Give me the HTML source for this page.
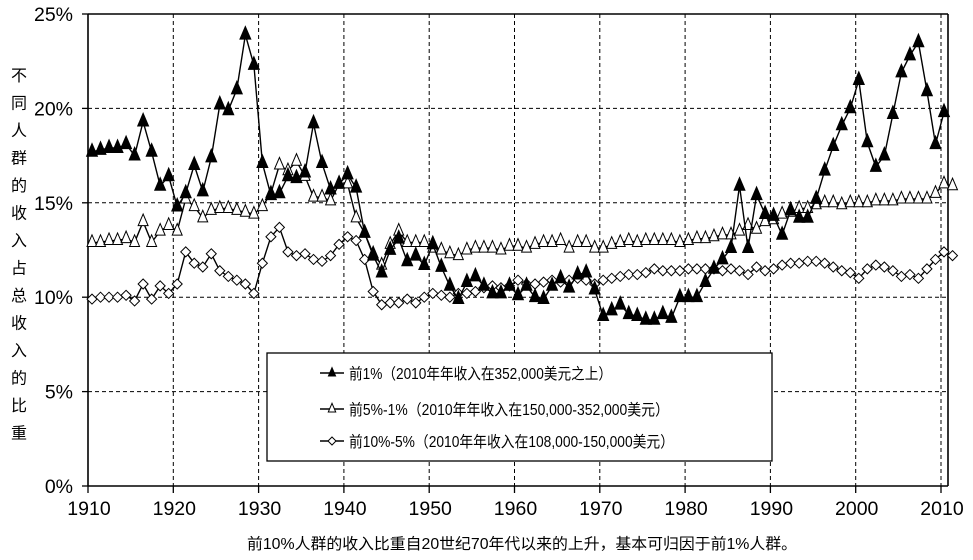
<!DOCTYPE html>
<html><head><meta charset="utf-8">
<style>
html,body{margin:0;padding:0;background:#fff;width:973px;height:560px;overflow:hidden}
svg{display:block}
text{font-family:"Liberation Sans","Noto Sans CJK SC",sans-serif;fill:#000}
</style></head>
<body>
<svg id="s" width="973" height="560" viewBox="0 0 973 560" xmlns="http://www.w3.org/2000/svg">
<rect width="973" height="560" fill="#fff"/>
<g id="grid" stroke="#000" stroke-width="1" stroke-dasharray="4,3"></g>
<g id="axes" stroke="#000" stroke-width="1.6" fill="none">
<line x1="88" y1="14" x2="88" y2="486"/>
<line x1="88" y1="486" x2="948" y2="486"/>
<line x1="88" y1="14" x2="948" y2="14"/>
<line x1="948" y1="14" x2="948" y2="486"/>
</g>
<g id="ticks" stroke="#000" stroke-width="1.3"></g>
<g id="ylab" font-size="19.5" text-anchor="end"></g>
<g id="xlab" font-size="19.5" text-anchor="middle"></g>
<g id="series"></g>
<rect x="267" y="353" width="505" height="108" fill="#fff" stroke="#000" stroke-width="1.3"/>
<g id="legend" font-size="15.5"></g>
<g id="yt" font-size="16" text-anchor="middle"></g>
<text x="522" y="549" font-size="15.5" text-anchor="middle" textLength="550" lengthAdjust="spacingAndGlyphs">前10%人群的收入比重自20世纪70年代以来的上升，基本可归因于前1%人群。</text>
</svg>
<script>
var NS="http://www.w3.org/2000/svg";
function el(p,t,a,txt){var e=document.createElementNS(NS,t);for(var k in a)e.setAttribute(k,a[k]);if(txt!=null)e.textContent=txt;document.getElementById(p).appendChild(e);return e;}
function X(y){return 88+(y-1910)*8.53;}
function Y(v){return 486-v*18.88;}
for(var yr=1920;yr<=2010;yr+=10){el('grid','line',{x1:X(yr),y1:14,x2:X(yr),y2:486});}
for(var v=5;v<=20;v+=5){el('grid','line',{x1:88,y1:Y(v),x2:948,y2:Y(v)});}
for(var yr=1910;yr<=2010;yr+=10){el('ticks','line',{x1:X(yr),y1:486,x2:X(yr),y2:493});el('xlab','text',{x:X(yr)+1,y:515},String(yr));}
for(var v=0;v<=25;v+=5){el('ticks','line',{x1:82,y1:Y(v),x2:88,y2:Y(v)});el('ylab','text',{x:73,y:Y(v)+7},v+'%');}
var yt="不同人群的收入占总收入的比重";
for(var i=0;i<yt.length;i++){el('yt','text',{x:19,y:81+i*27.5},yt[i]);}
var top1=[17.7,17.8,17.9,17.9,18.1,17.5,19.3,17.7,15.9,16.4,
14.8,15.5,17.0,15.6,17.4,20.2,19.9,21.0,23.9,22.3,
17.1,15.4,15.5,16.4,16.3,16.6,19.2,17.1,15.7,16.0,
16.5,15.8,13.4,12.2,11.3,12.5,13.1,11.9,12.2,11.7,
12.8,11.6,10.6,9.9,10.8,11.1,10.6,10.2,10.2,10.6,
10.1,10.6,10.0,9.9,10.6,11.0,10.5,11.2,11.3,10.4,
9.0,9.3,9.6,9.1,9.0,8.8,8.8,9.1,8.9,10.0,
10.0,10.0,10.8,11.5,12.0,12.6,15.9,12.6,15.4,14.4,
14.3,13.3,14.6,14.2,14.2,15.2,16.7,18.0,19.1,20.0,
21.5,18.2,16.9,17.5,19.7,21.9,22.8,23.5,20.9,18.1,19.8];
var top5=[12.9,12.9,13.0,13.0,13.1,12.9,14.0,12.9,13.5,13.8,
13.5,15.2,14.8,14.2,14.6,14.7,14.7,14.6,14.5,14.4,
14.8,15.5,17.0,16.7,17.2,16.4,15.3,15.3,15.1,16.0,
16.0,14.2,13.4,12.3,11.7,12.8,13.5,12.9,12.9,12.9,
12.6,12.5,12.3,12.2,12.5,12.6,12.6,12.6,12.5,12.7,
12.7,12.6,12.8,12.9,12.9,13.0,12.6,12.9,12.9,12.6,
12.6,12.8,12.9,13.0,12.9,13.0,13.0,13.0,13.0,12.9,
13.0,13.1,13.1,13.2,13.3,13.3,13.5,13.8,13.6,14.0,
14.1,14.4,14.5,14.7,14.7,14.9,15.0,15.0,14.9,15.0,
15.0,15.0,15.1,15.1,15.1,15.2,15.2,15.2,15.2,15.5,16.0,15.9];
var top10=[9.9,10.0,10.0,10.0,10.1,9.8,10.7,9.9,10.6,10.2,
10.7,12.4,11.8,11.6,12.3,11.4,11.1,10.9,10.7,10.2,
11.8,13.2,13.7,12.4,12.2,12.3,12.0,11.9,12.2,12.8,
13.2,13.0,12.0,10.3,9.6,9.7,9.7,9.9,9.7,10.0,
10.2,10.1,10.0,10.2,10.2,10.3,10.5,10.6,10.5,10.6,
10.9,10.7,10.7,10.8,10.9,10.8,10.9,11.0,10.9,10.7,
10.9,11.0,11.1,11.2,11.2,11.3,11.5,11.4,11.4,11.4,
11.5,11.5,11.5,11.5,11.4,11.5,11.4,11.2,11.6,11.4,
11.5,11.7,11.8,11.8,11.9,11.9,11.8,11.6,11.4,11.3,
11.0,11.5,11.7,11.6,11.4,11.1,11.2,11.0,11.5,12.0,12.4,12.2];
function px(i){return 92+i*8.52;}
function tri(x,y,s){return (x)+','+(y-s*0.95)+' '+(x-s*0.62)+','+(y+s*0.5)+' '+(x+s*0.62)+','+(y+s*0.5);}
function dia(x,y,s){return x+','+(y-s)+' '+(x+s)+','+y+' '+x+','+(y+s)+' '+(x-s)+','+y;}
function draw(d,kind){
  var pts=d.map(function(v,i){return px(i).toFixed(1)+','+Y(v).toFixed(1);}).join(' ');
  el('series','polyline',{points:pts,fill:'none',stroke:'#000','stroke-width':1.4});
  d.forEach(function(v,i){var x=px(i),y=Y(v);
    if(kind==0)el('series','polygon',{points:tri(x,y,9),fill:'#000',stroke:'#000','stroke-width':0.8});
    else if(kind==1)el('series','polygon',{points:tri(x,y,8),fill:'#fff',stroke:'#000','stroke-width':1});
    else el('series','polygon',{points:dia(x,y,5),fill:'#fff',stroke:'#000','stroke-width':1});
  });
}
draw(top10,2);draw(top5,1);draw(top1,0);
var ly=[373,409,441];
var lt=["前1%（2010年年收入在352,000美元之上）","前5%-1%（2010年年收入在150,000-352,000美元）","前10%-5%（2010年年收入在108,000-150,000美元）"];
var lw=[263,320,325];
for(var k=0;k<3;k++){
  el('legend','line',{x1:320,y1:ly[k],x2:344,y2:ly[k],stroke:'#000','stroke-width':1.4});
  if(k==0)el('legend','polygon',{points:tri(332,ly[k],7),fill:'#000'});
  else if(k==1)el('legend','polygon',{points:tri(332,ly[k],6),fill:'#fff',stroke:'#000','stroke-width':1});
  else el('legend','polygon',{points:dia(332,ly[k],4),fill:'#fff',stroke:'#000','stroke-width':1});
  el('legend','text',{x:349,y:ly[k]+6,textLength:lw[k],lengthAdjust:'spacingAndGlyphs'},lt[k]);
}
</script>
</body></html>
